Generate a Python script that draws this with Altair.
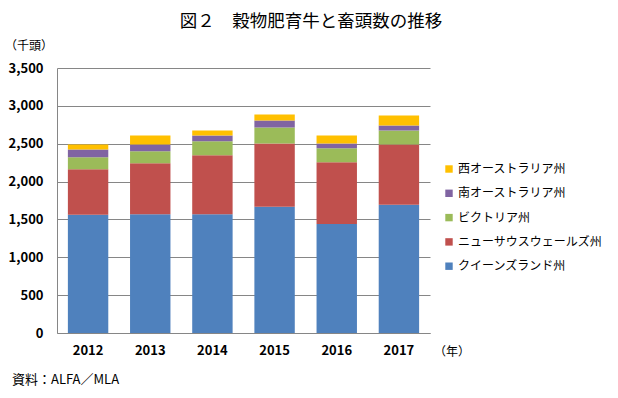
import altair as alt
import pandas as pd

years = ["2012", "2013", "2014", "2015", "2016", "2017"]
regions = ["クイーンズランド州", "ニューサウスウェールズ州", "ビクトリア州", "南オーストラリア州", "西オーストラリア州"]
qld = [1561, 1570, 1570, 1667, 1439, 1693]
nsw = [601, 671, 776, 837, 815, 798]
vic = [158, 158, 185, 211, 185, 184]
sa = [105, 92, 79, 92, 65, 66]
wa = [66, 119, 65, 79, 106, 132]
colors = ["#4F81BD", "#C0504D", "#9BBB59", "#8064A2", "#FFC000"]
yticks = [0, 500, 1000, 1500, 2000, 2500, 3000, 3500]

series = [qld, nsw, vic, sa, wa]
rows = []
for i, r in enumerate(regions):
    for j, y in enumerate(years):
        rows.append({"year": y, "region": r, "value": series[i][j], "ord": i})
df = pd.DataFrame(rows)

FONT = "Noto Sans CJK JP"
legend_order = list(reversed(regions))
legend_colors = list(reversed(colors))

bars = alt.Chart(df).mark_bar().encode(
    x=alt.X("year:N", sort=years,
            scale=alt.Scale(paddingInner=0.35, paddingOuter=0.175),
            axis=alt.Axis(title=None, labelAngle=0, ticks=False, labelPadding=11,
                          domainColor="#868686", labelFontSize=13, labelColor="#000",
                          labelFont=FONT, labelFontWeight="bold")),
    y=alt.Y("value:Q", stack="zero",
            scale=alt.Scale(domain=[0, 3500], nice=False),
            axis=alt.Axis(title=None, values=yticks,
                          labelExpr="format(datum.value, ',')",
                          ticks=False, labelPadding=14, gridColor="#868686",
                          domainColor="#868686", labelFontSize=13, labelColor="#000",
                          labelFont=FONT, labelFontWeight="bold")),
    color=alt.Color("region:N",
                    scale=alt.Scale(domain=legend_order, range=legend_colors),
                    legend=alt.Legend(title=None, orient="none", legendX=386, legendY=95,
                                      symbolType="square", symbolSize=55, symbolStrokeWidth=0,
                                      labelFontSize=12, labelFont=FONT, labelColor="#000",
                                      rowPadding=12.3, labelOffset=3)),
    order=alt.Order("ord:Q", sort="ascending"),
)

def txt(s, x, y, size=13, align="left", weight="normal"):
    return alt.Chart(pd.DataFrame({"t": [s]})).mark_text(
        align=align, baseline="middle", fontSize=size, font=FONT, color="#000",
        fontWeight=weight
    ).encode(text="t:N", x=alt.value(x), y=alt.value(y))

title = txt("図２　穀物肥育牛と畜頭数の推移", 254, -46, size=17.5, align="center")
yunit = txt("（千頭）", -52, -22, size=12)
xunit = txt("（年）", 377, 284, size=12)
src = txt("資料：ALFA／MLA", -45, 312, size=13)

chart = alt.layer(bars, title, yunit, xunit, src).properties(
    width=373, height=265,
    autosize=alt.AutoSizeParams(type="none"),
    padding={"left": 49, "top": 60, "right": 180, "bottom": 57},
).configure_view(stroke=None).configure_axis(grid=True).configure_axisX(grid=False)

chart.save("out.html", embed_options={"renderer": "svg", "actions": False})
